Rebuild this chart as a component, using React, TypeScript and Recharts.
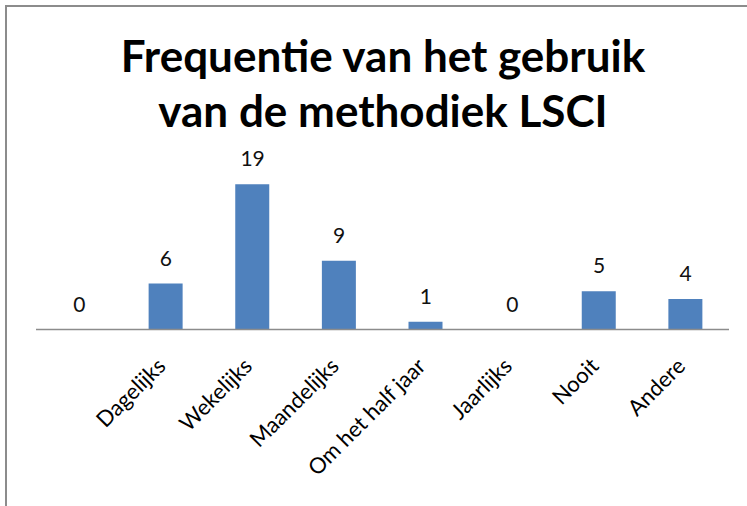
import React from 'react';
import { ComposedChart, Bar, Line, XAxis, YAxis, LabelList } from 'recharts';

const categories = ['', 'Dagelijks', 'Wekelijks', 'Maandelijks', 'Om het half jaar', 'Jaarlijks', 'Nooit', 'Andere'];
const counts = [0, 6, 19, 9, 1, 0, 5, 4];
const titleLines = ['Frequentie van het gebruik', 'van de methodiek LSCI'];

const data = categories.map((c, i) => ({ name: c, id: `c${i}`, value: counts[i] }));

const FONT = 'Lato, "Open Sans", sans-serif';

const Tick = (props: any) => {
  const { x, y, payload } = props;
  const idx = Number(String(payload.value).slice(1));
  return (
    <g transform={`translate(${x + 1},${y + 30})`}>
      <text textAnchor="end" transform="rotate(-45)" fontSize={22} fontFamily={FONT} fill="#000">
        {categories[idx]}
      </text>
    </g>
  );
};

const ValueLabel = (props: any) => {
  const { x, y, value } = props;
  return (
    <text x={x} y={y - 18} textAnchor="middle" fontSize={21} fontFamily={FONT} fill="#111">
      {value}
    </text>
  );
};

export default function App() {
  return (
    <div style={{ position: 'absolute', left: 0, top: 0, width: 747, height: 506, overflow: 'hidden', background: '#fff' }}>
      <div style={{ position: 'absolute', left: 5, top: 5, width: 900, height: 700, borderLeft: '2px solid #8c8c8c', borderTop: '2px solid #8c8c8c' }} />
      <div style={{ position: 'absolute', left: 0, top: 28, width: 766, textAlign: 'center', fontFamily: FONT, fontWeight: 'bold', fontSize: 44, lineHeight: '55px', color: '#000' }}>
        {titleLines.map((l) => (<div key={l}>{l}</div>))}
      </div>
      <div style={{ position: 'absolute', left: 0, top: 0 }}>
        <ComposedChart width={747} height={506} data={data} margin={{ top: 176.5, left: 36, right: 18, bottom: 0 }} barSize={34}>
          <XAxis dataKey="id" tick={<Tick />} tickLine={false} axisLine={{ stroke: '#8c8c8c', strokeWidth: 1.5 }} height={176.5} interval={0} />
          <YAxis hide domain={[0, 20]} />
          <Bar dataKey="value" fill="#4f81bd" isAnimationActive={false} />
          <Line dataKey="value" stroke="none" dot={false} activeDot={false} isAnimationActive={false} legendType="none">
            <LabelList dataKey="value" content={<ValueLabel />} />
          </Line>
        </ComposedChart>
      </div>
    </div>
  );
}
